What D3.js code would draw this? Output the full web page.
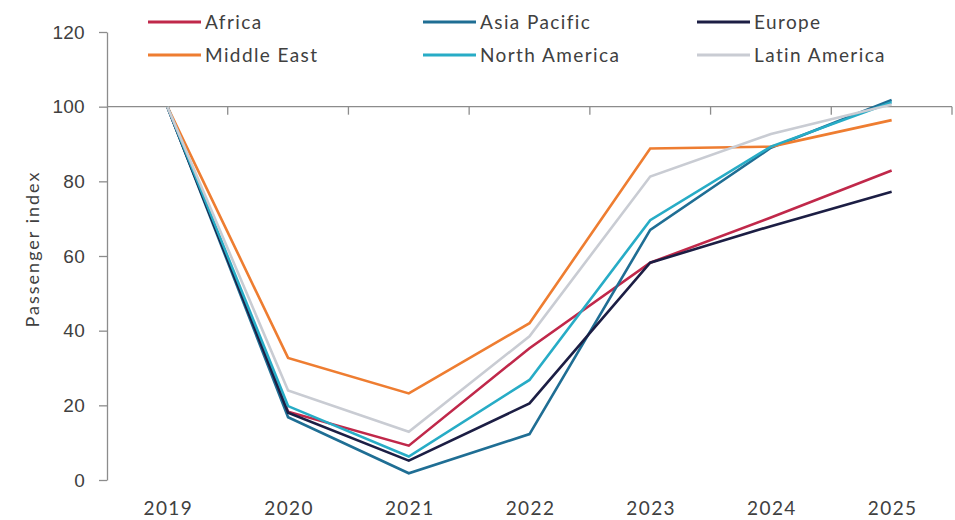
<!DOCTYPE html>
<html>
<head>
<meta charset='utf-8'>
<style>
body { margin: 0; background: #fff; }
svg { font-family: Lato, "Open Sans", sans-serif; }
.axis text { fill: #404040; font-size: 19px; letter-spacing: 1.4px; }
.axis.yax text { letter-spacing: 0.3px; }
.axis path, .axis line { stroke: #8c8c8c; stroke-width: 1.3px; }
.legend text { fill: #404040; font-size: 19px; letter-spacing: 1.4px; }
</style>
</head>
<body>
<svg width="955" height="520"></svg>
<script src="https://cdn.jsdelivr.net/npm/d3@7"></script>
<script>
var years = ['2019', '2020', '2021', '2022', '2023', '2024', '2025'];
var yTicks = [0, 20, 40, 60, 80, 100, 120];

var africa       = [100, 18.3, 9.2, 35.3, 58.2, 70.3, 82.9];
var asiaPacific  = [100, 16.8, 1.8, 12.3, 67.0, 89.0, 101.8];
var europe       = [100, 18.0, 5.2, 20.5, 58.2, 68.0, 77.2];
var middleEast   = [100, 32.7, 23.2, 42.0, 88.8, 89.3, 96.4];
var northAmerica = [100, 19.8, 6.3, 26.8, 69.6, 89.3, 101.2];
var latinAmerica = [100, 24.0, 12.9, 38.5, 81.3, 92.7, 100.6];

var series = [
  {name: 'Africa', values: africa, col: '#c0284a'},
  {name: 'Asia Pacific', values: asiaPacific, col: '#1f6e94'},
  {name: 'Europe', values: europe, col: '#1c1e44'},
  {name: 'Middle East', values: middleEast, col: '#ee7d31'},
  {name: 'North America', values: northAmerica, col: '#27acc6'},
  {name: 'Latin America', values: latinAmerica, col: '#c9ccd3'}
];

var svg = d3.select('svg'),
    plotL = 107, plotR = 952, plotT = 32, plotB = 480;

var x = d3.scaleBand().domain(years).range([plotL, plotR]);
var y = d3.scaleLinear().domain([0, 120]).range([plotB, plotT]);

// y axis
svg.append('g')
    .attr('class', 'axis yax')
    .attr('transform', 'translate(' + plotL + ',0)')
    .call(d3.axisLeft(y).tickValues(yTicks).tickSize(8).tickPadding(14).tickSizeOuter(0))
    .call(g => g.selectAll('text').style('font-family', null).attr('font-size', null));

// x axis crosses at 100, tick labels placed low
var xg = svg.append('g')
    .attr('class', 'axis')
    .attr('transform', 'translate(0,' + y(100) + ')');
xg.append('line')
    .attr('x1', plotL).attr('x2', plotR)
    .attr('y1', 0).attr('y2', 0);
xg.selectAll('.tk')
    .data(years)
    .enter().append('line')
    .attr('x1', d => x(d) + x.step())
    .attr('x2', d => x(d) + x.step())
    .attr('y1', 0).attr('y2', 8);
svg.append('g')
    .attr('class', 'axis')
    .selectAll('text')
    .data(years)
    .enter().append('text')
    .attr('x', d => x(d) + x.bandwidth() / 2 + 1)
    .attr('y', 515)
    .attr('text-anchor', 'middle')
    .text(d => d);

// y title
svg.append('text')
    .attr('transform', 'translate(39,' + 249 + ') rotate(-90)')
    .attr('text-anchor', 'middle')
    .attr('fill', '#404040')
    .style('font-size', '18px')
    .style('letter-spacing', '2px')
    .text('Passenger index');

var line = d3.line()
    .x((d, i) => x(years[i]) + x.bandwidth() / 2)
    .y(d => y(d));

svg.append('g')
  .selectAll('path')
  .data(series)
  .enter().append('path')
    .attr('fill', 'none')
    .attr('stroke', d => d.col)
    .attr('stroke-width', 2.6)
    .attr('d', d => line(d.values));

// legend, 3 columns x 2 rows
var legX = [148, 423, 697], legY = [22, 55];
var leg = svg.append('g').attr('class', 'legend')
  .selectAll('g')
  .data(series)
  .enter().append('g')
    .attr('transform', (d, i) => 'translate(' + legX[i % 3] + ',' + legY[Math.floor(i / 3)] + ')');
leg.append('line')
    .attr('x1', 0).attr('x2', 53)
    .attr('stroke', d => d.col)
    .attr('stroke-width', 3);
leg.append('text')
    .attr('x', 57)
    .attr('dy', '0.35em')
    .text(d => d.name);
</script>
</body>
</html>
